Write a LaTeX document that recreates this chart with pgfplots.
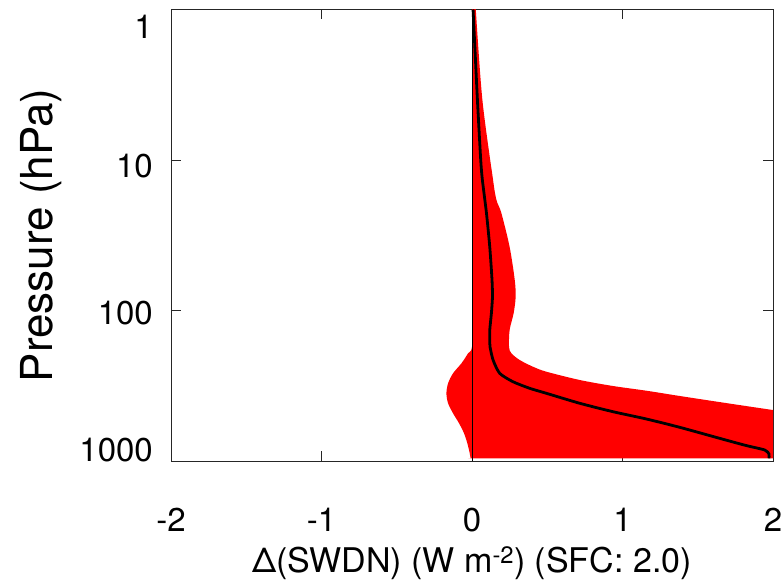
\documentclass[border=0pt]{standalone}
\usepackage{fontspec}
\setmainfont{TeX Gyre Heros}
\usepackage{pgfplots}
\pgfplotsset{compat=1.18}
\newcommand\yl[2]{\raisebox{\dimexpr#1-11.7pt\relax}[0pt][0pt]{#2}}
\begin{document}
\begin{tikzpicture}[x=1pt,y=1pt]
\begin{axis}[
 at={(171pt,122pt)}, anchor=south west,
 width=602pt, height=451.5pt, scale only axis,
 xmin=-2, xmax=2, ymin=1, ymax=1000, ymode=log, y dir=reverse,
 xtick={-2,-1,0,1,2}, xticklabels={-2,-1,0,1,2},
 ytick={1,10,100,1000},
 yticklabels={{\yl{-17.2pt}{1}},{\yl{-6pt}{10}},{\yl{-2pt}{100}},{\yl{11pt}{1000}}},
 yminorticks=false, xminorticks=false,
 tick align=inside, major tick length=10pt,
 tick style={line width=0.9pt, black!85},
 axis line style={line width=1pt, black!85},
 ticklabel style={font=\fontsize{33}{36}\selectfont, inner sep=0pt},
 xticklabel style={anchor=center, yshift=-59pt},
 yticklabel style={anchor=east, xshift=-18pt},
 xlabel={Δ(SWDN) (W m\textsuperscript{-2}) (SFC: 2.0)},
 xlabel style={at={(axis description cs:0.5,-0.2259)}, anchor=center, inner sep=0pt, font=\fontsize{34}{38}\selectfont},
 ylabel={Pressure (hPa)},
 ylabel style={at={(axis description cs:-0.2159,0.5)}, anchor=center, inner sep=0pt, font=\fontsize{44}{48}\selectfont},
 clip=true,
]
% uncertainty envelope (right edge downward, then left edge upward)
\addplot[fill=red, draw=none, smooth, tension=0.5] table {
x p
0.000 0.5
0.020 0.8
0.025 1
0.069 3.99
0.140 13.58
0.162 18.4
0.195 22.5
0.250 37.8
0.284 62.7
0.290 81.3
0.277 103.9
0.250 134.8
0.246 174.8
0.262 192.5
0.317 213.3
0.405 236.3
0.494 255.0
0.716 289.6
0.937 317.5
1.159 341.2
1.380 369.9
1.686 411.7
1.998 458.2
2.500 542
3.000 642
3.000 960
2.500 960
1.000 960
0.050 960
0.000 960
-0.009 959.6
-0.015 888.8
-0.031 762.8
-0.053 654.6
-0.086 561.6
-0.126 482
-0.159 413.6
-0.170 354.9
-0.159 304.6
-0.126 261.4
-0.070 224.3
-0.026 192.5
0.000 174
0.000 100
0.000 0.5
};
% zero line
\addplot[black, line width=0.9pt] coordinates {(0,1) (0,1000)};
% mean profile
\addplot[black, line width=2.8pt, smooth, tension=0.4] table {
x p
0.007 1
0.036 3.99
0.058 10
0.069 13.58
0.096 22.5
0.118 37.8
0.133 62.7
0.136 81.3
0.129 103.9
0.118 134.8
0.118 157
0.120 174.8
0.140 213.3
0.184 261.4
0.272 297.3
0.383 328.8
0.494 354.9
0.716 413.6
0.937 470.4
1.159 526
1.380 597.2
1.686 725.4
1.823 790
1.945 845.2
1.973 898.4
1.973 959.6
};
\end{axis}
\pgfresetboundingbox
\path[use as bounding box] (0,0) rectangle (784,583);
\end{tikzpicture}
\end{document}
